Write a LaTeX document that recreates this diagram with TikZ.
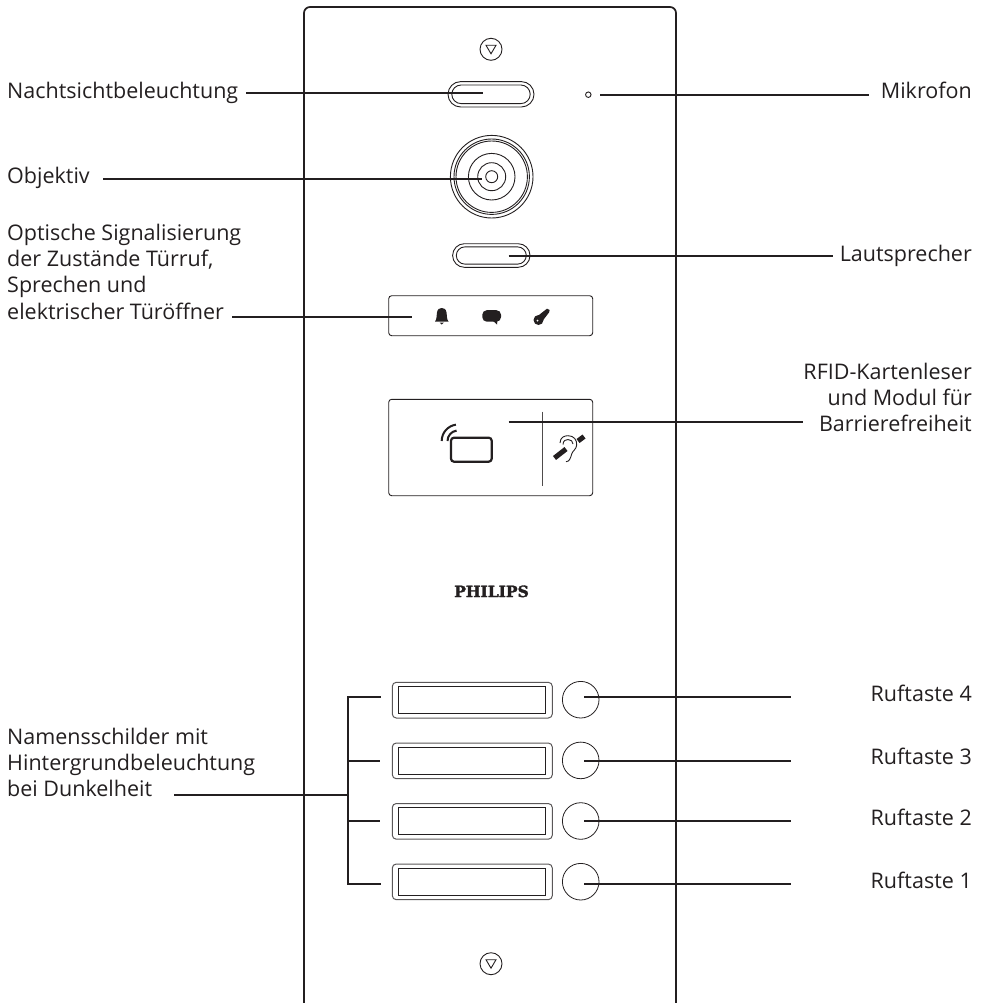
\documentclass[tikz,border=0pt]{standalone}
\usepackage{fontspec}
\setmainfont{Open Sans}
\newfontfamily\logofont[BoldFeatures={FakeBold=2}]{DejaVu Serif}
\definecolor{ink}{HTML}{231F20}
\tikzset{
  x=1pt,y=-1pt,
  device/.style={draw=ink,line width=0.9pt},
  panel/.style={draw=ink,line width=1.7pt,rounded corners=6pt},
  leader/.style={draw=ink,line width=2.2pt},
  lbl/.style={font=\fontsize{21.5}{26.2}\selectfont,text=ink,inner sep=0pt,align=left,anchor=base west},
  lblr/.style={font=\fontsize{21.5}{26.2}\selectfont,text=ink,inner sep=0pt,align=right,anchor=base east},
}
\newcommand{\pill}[6]{% x, y, outer hw, outer hh, inner hw, inner hh
  \draw[device,rounded corners=#4pt] (#1-#3,#2-#4) rectangle (#1+#3,#2+#4);
  \draw[device,rounded corners=#6pt] (#1-#5,#2-#6) rectangle (#1+#5,#2+#6);
}
\newcommand{\plate}[1]{% top y
  \draw[device,draw=ink!75,line width=1pt,rounded corners=4pt] (392.3,#1) rectangle (552.3,#1+35.7);
  \draw[device,line width=1pt] (398.3,#1+4) rectangle (545.7,#1+31.4);
}
\newcommand{\tricirc}[2]{%
  \draw[device] (#1,#2) circle[radius=11];
  \draw[device] (#1-5,#2-4) -- (#1+5,#2-4) -- (#1,#2+4.5) -- cycle;
}
\begin{document}
\begin{tikzpicture}
\useasboundingbox (0,0) rectangle (981,1003);
% panel
\begin{scope}
\clip (0,0) rectangle (981,1003);
\draw[panel] (304,1020) -- (304,7) -- (676,7) -- (676,1020);
\end{scope}
\tricirc{491}{49.3}
\tricirc{491}{963.7}
% night light
\pill{491}{94.3}{43}{12.7}{39.2}{9.3}
% mic
\node[circle,draw=ink,line width=0.9pt,inner sep=0pt,minimum size=5.5pt] (mic) at (588.3,94.7) {};
% lens
\foreach \r in {41.3,37.7,35.7,23.3,14,6}
  \draw[device] (491.7,176.7) circle[radius=\r];
% speaker
\pill{491.3}{255.5}{38.7}{11.8}{35}{8.6}
% indicator box
\draw[device,rounded corners=3pt] (388.7,295.7) rectangle (592.7,335.7);
% bell
\fill[ink] (435,321.5) .. controls (437,319) and (436.5,315) .. (437,312.5) .. controls (437.5,309) and (439.5,308) .. (441.7,308)
 .. controls (444,308) and (446,309) .. (446.5,312.5) .. controls (447,315) and (446.5,319) .. (448.5,321.5) -- cycle;
\fill[ink] (439.5,322.5) -- (444,322.5) -- (441.7,324.5) -- cycle;
% bubble
\fill[ink,rounded corners=4.5pt] (482.3,310.2) rectangle (501,321.7);
\fill[ink] (492,320) -- (497.5,320) -- (497,324.5) -- cycle;
% key
\fill[ink] (538.5,320) circle[radius=5];
\fill[ink] (537,316.5) -- (547,308.7) -- (549.7,310) -- (549,312.5) -- (542.5,321) -- cycle;
\fill[white] (537.5,320.7) circle[radius=1];
% RFID box
\draw[device,rounded corners=3pt] (388.7,399.3) rectangle (592.7,495.7);
\draw[ink!80,line width=0.9pt] (542,411.7) -- (542,485.7);
\draw[ink,line width=2.2pt,rounded corners=3pt] (451,437.7) rectangle (491.7,461.7);
\draw[ink,line width=2pt] (441.7,441) arc[start angle=180,end angle=262,radius=16.5];
\draw[ink,line width=2pt] (447.5,441) arc[start angle=180,end angle=262,radius=10.5];
% hearing icon
\draw[ink,line width=0.9pt] (560,443) .. controls (560,437) and (565,435.7) .. (568,435.7) .. controls (574,435.7) and (577,440) .. (576.7,445) .. controls (576.5,449) and (572.5,451) .. (571.7,454) .. controls (570.5,458) and (569.5,461.7) .. (566,461.7);
\draw[ink,line width=0.9pt] (563,444.5) .. controls (563,440.5) and (566,439.5) .. (568,439.5) .. controls (571,439.5) and (573,441.5) .. (573,444);
\draw[ink,line width=5pt] (554.5,458) -- (566,449);
\draw[ink,line width=5pt] (578,441) -- (584,436.5);
% logo
\node[font=\logofont\bfseries\fontsize{15.5}{16}\selectfont,text=ink,inner sep=0pt,anchor=base] (logo) at (491.5,597) {PHILIPS};
% plates and buttons
\plate{682.3}
\plate{743}
\plate{803.5}
\plate{864}
\foreach \n/\y in {b4/699.7,b3/760.4,b2/821,b1/881.7}
  \node[circle,draw=ink,line width=0.8pt,inner sep=0pt,minimum size=36.6pt] (\n) at (580.7,\y) {};
% leader anchors
\coordinate (a1) at (482.7,93);
\coordinate (a2) at (481.7,179);
\coordinate (a3) at (508.7,256.3);
\coordinate (a4) at (411.7,316.7);
\coordinate (a5) at (508.7,422.3);
\coordinate (m1) at (600,95);
\foreach \n/\y in {p4/697,p3/761,p2/821,p1/884}
  \coordinate (\n) at (584.3,\y);
\foreach \n/\y in {e4/697,e3/761,e2/821,e1/884}
  \coordinate (\n) at (791,\y);
\foreach \n/\y in {t4/697.3,t3/761,t2/821,t1/884.3}
  \coordinate (\n) at (380,\y);
\coordinate (j) at (347.7,795);
% labels
\node[lbl] (l1) at (7,98.5) {Nachtsichtbeleuchtung};
\node[lbl] (l2) at (7,184) {Objektiv};
\node[lbl,anchor=north west] (l3) at (7,224) {Optische Signalisierung\\der Zustände Türruf,\\Sprechen und\\elektrischer Türöffner};
\node[lbl,anchor=north west] (l4) at (7,728) {Namensschilder mit\\Hintergrundbeleuchtung\\bei Dunkelheit};
\node[lblr] (r1) at (972,99) {Mikrofon};
\node[lblr] (r2) at (972,261) {Lautsprecher};
\node[lblr,anchor=north east] (r3) at (972,363) {RFID-Kartenleser\\und Modul für\\Barrierefreiheit};
\node[lblr] (r4) at (972,701) {Ruftaste 4};
\node[lblr] (r5) at (972,764) {Ruftaste 3};
\node[lblr] (r6) at (972,825) {Ruftaste 2};
\node[lblr] (r7) at (972,888) {Ruftaste 1};
% leaders
\draw[leader] (246,93) -- (a1);
\draw[leader] (103,179) -- (a2);
\draw[leader] (232,316.7) -- (a4);
\draw[leader] (m1) -- (869,95);
\draw[leader] (a3) -- (833,256.3);
\draw[leader] (a5) -- (803,422.3);
\foreach \i in {1,2,3,4} \draw[leader] (p\i) -- (e\i);
\draw[leader,line cap=rect] (t4) -| (j) |- (t1);
\draw[leader] (347.7,761) -- (t3);
\draw[leader] (347.7,821) -- (t2);
\draw[leader] (174,795) -- (j);
\end{tikzpicture}
\end{document}
